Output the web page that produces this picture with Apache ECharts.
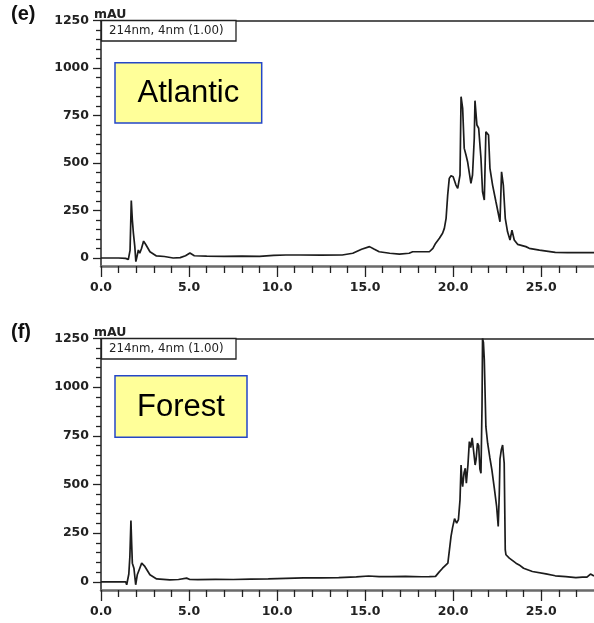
<!DOCTYPE html>
<html>
<head>
<meta charset="utf-8">
<script src="https://cdn.jsdelivr.net/npm/echarts@6/dist/echarts.min.js"></script>
<style>
html,body{margin:0;padding:0;background:#fff;}
#chart{width:594px;height:623px;}
</style>
</head>
<body>
<div id="chart"></div>
<script>
// ---- data (retention time in min, absorbance in mAU) ----
const panelLetters = ['(e)', '(f)'];
const sampleNames = ['Atlantic', 'Forest'];
const detectorLabel = '214nm, 4nm (1.00)';
const yUnit = 'mAU';
const xTicks = [0, 5, 10, 15, 20, 25];
const yTicks = [0, 250, 500, 750, 1000, 1250];

const atlanticTime = [0, 1.0, 1.4, 1.55, 1.65, 1.72, 1.78, 1.84, 1.92, 1.98, 2.05, 2.12, 2.2, 2.3, 2.42, 2.55, 2.78, 3.15, 3.6, 4.1, 4.5, 4.8, 5.05, 5.3, 6.0, 7.0, 8.0, 9.0, 9.8, 10.5, 11.3, 12.5, 13.7, 14.3, 14.8, 15.25, 15.5, 15.8, 16.4, 16.95, 17.5, 17.7, 18.65, 18.85, 19.0, 19.22, 19.4, 19.5, 19.6, 19.69, 19.78, 19.88, 20.0, 20.16, 20.26, 20.39, 20.45, 20.54, 20.63, 20.73, 20.82, 21.01, 21.1, 21.2, 21.24, 21.35, 21.45, 21.58, 21.67, 21.77, 21.86, 22.01, 22.09, 22.24, 22.43, 22.66, 22.75, 22.85, 22.96, 23.09, 23.23, 23.34, 23.47, 23.66, 24.13, 24.32, 24.9, 25.8, 26.5, 27.2, 28];
const atlanticAbs = [0, 0, -2, -8, 40, 302, 200, 131, 60, -19, 10, 42, 25, 50, 89, 70, 33, 11, 8, 0, 2, 12, 26, 12, 10, 9, 10, 9, 14, 16, 16, 15, 16, 25, 46, 60, 47, 33, 25, 20, 25, 33, 33, 51, 77, 104, 130, 156, 209, 331, 419, 433, 428, 384, 367, 437, 849, 788, 577, 542, 507, 393, 437, 630, 828, 700, 683, 525, 349, 305, 665, 647, 472, 384, 296, 191, 454, 384, 209, 138, 95, 147, 95, 72, 60, 51, 42, 30, 28, 28, 28];

const forestTime = [0, 1.0, 1.4, 1.46, 1.58, 1.64, 1.70, 1.74, 1.78, 1.87, 1.97, 2.06, 2.17, 2.31, 2.49, 2.78, 3.16, 3.91, 4.4, 4.86, 5.05, 5.5, 6.5, 7.5, 8.5, 9.5, 10.5, 11.5, 12.5, 13.5, 14.5, 15.2, 15.8, 16.5, 17.3, 18.2, 18.65, 19.0, 19.2, 19.4, 19.7, 19.88, 19.97, 20.08, 20.2, 20.3, 20.39, 20.45, 20.5, 20.54, 20.62, 20.69, 20.75, 20.84, 20.92, 21.0, 21.08, 21.16, 21.25, 21.3, 21.38, 21.45, 21.52, 21.58, 21.64, 21.67, 21.72, 21.77, 21.86, 21.96, 22.08, 22.2, 22.34, 22.47, 22.56, 22.62, 22.66, 22.74, 22.81, 22.9, 22.96, 23.0, 23.1, 23.19, 23.3, 23.57, 23.75, 24.0, 24.5, 25.27, 25.8, 26.4, 26.97, 27.34, 27.6, 27.8, 28];
const forestAbs = [0, 0, 0, -15, 40, 130, 315, 200, 96, 70, -15, 36, 62, 96, 79, 36, 15, 10, 12, 19, 12, 11, 13, 12, 14, 15, 18, 20, 20, 22, 25, 30, 27, 27, 28, 26, 27, 28, 50, 70, 96, 233, 280, 325, 301, 320, 421, 600, 520, 489, 560, 583, 507, 600, 720, 690, 740, 738, 600, 626, 712, 700, 580, 558, 900, 1250, 1230, 1140, 797, 712, 640, 575, 480, 387, 284, 450, 630, 680, 703, 609, 164, 139, 130, 122, 118, 96, 87, 70, 53, 41, 31, 27, 22, 24, 24, 40, 30];

// ---- build ----
const X_MIN = 0, X_MAX = 28, Y_MIN = -42, Y_MAX = 1250;
const minorY = [];
for (let v = 50; v < Y_MAX; v += 50) if (v % 250 !== 0) minorY.push(v);
const minorX = [];
for (let t = 1; t < X_MAX; t++) if (t % 5 !== 0) minorX.push(t);

const grids = [
  {left: 101, right: 0, top: 20.5, height: 245.5},
  {left: 101, right: 0, top: 338.5, height: 251.5}
];
const labelFont = {fontFamily: 'DejaVu Sans', fontSize: 12.5, fontWeight: 'bold', color: '#222'};

const xAxes = [], yAxes = [], series = [];
grids.forEach((g, i) => {
  xAxes.push({
    type: 'value', gridIndex: i, min: X_MIN, max: X_MAX, position: 'bottom',
    axisLine: {show: true, onZero: false, lineStyle: {color: '#6a6a6a', width: 2.5}},
    axisTick: {show: true, customValues: xTicks, length: 11, lineStyle: {color: '#222', width: 1.3}},
    minorTick: {show: false},
    axisLabel: Object.assign({customValues: xTicks, margin: 15, formatter: v => v.toFixed(1)}, labelFont),
    splitLine: {show: false}
  });
  xAxes.push({
    type: 'value', gridIndex: i, min: X_MIN, max: X_MAX, position: 'bottom',
    axisLine: {show: false, onZero: false},
    axisTick: {show: true, customValues: minorX, length: 7, lineStyle: {color: '#222', width: 1.3}},
    axisLabel: {show: false}, splitLine: {show: false}
  });
  xAxes.push({
    type: 'value', gridIndex: i, min: X_MIN, max: X_MAX, position: 'top',
    axisLine: {show: true, onZero: false, lineStyle: {color: '#222', width: 1.5}},
    axisTick: {show: false}, axisLabel: {show: false}, splitLine: {show: false}
  });
  yAxes.push({
    type: 'value', gridIndex: i, min: Y_MIN, max: Y_MAX, position: 'left',
    axisLine: {show: true, onZero: false, lineStyle: {color: '#222', width: 1.5}},
    axisTick: {show: true, customValues: yTicks, length: 8, lineStyle: {color: '#222', width: 1.3}},
    axisLabel: Object.assign({customValues: yTicks, margin: 12, formatter: v => String(v)}, labelFont),
    splitLine: {show: false}
  });
  yAxes.push({
    type: 'value', gridIndex: i, min: Y_MIN, max: Y_MAX, position: 'left',
    axisLine: {show: false, onZero: false},
    axisTick: {show: true, customValues: minorY, length: 5, lineStyle: {color: '#222', width: 1.3}},
    axisLabel: {show: false}, splitLine: {show: false}
  });
});

function pairs(ts, vs) { return ts.map((t, k) => [t, vs[k]]); }
const traces = [pairs(atlanticTime, atlanticAbs), pairs(forestTime, forestAbs)];
traces.forEach((d, i) => {
  series.push({
    type: 'line', xAxisIndex: i * 3, yAxisIndex: i * 2, data: d,
    showSymbol: false, symbol: 'none', animation: false,
    lineStyle: {color: '#1c1c1c', width: 1.7}
  });
});

const graphic = [];
const panelTops = [20.5, 338.5];
const boxes = [
  {x: 115, y: 62.7, w: 146.7, h: 60.3},
  {x: 115, y: 375.7, w: 132, h: 61.6}
];
panelTops.forEach((top, i) => {
  graphic.push({type: 'text', left: 11, top: top - 16, style: {text: panelLetters[i], font: 'bold 20px "Liberation Sans", Arial', fill: '#111'}});
  graphic.push({type: 'text', left: 94, top: top - 12.5, style: {text: yUnit, font: 'bold 12.5px "DejaVu Sans"', fill: '#222'}});
  graphic.push({type: 'rect', shape: {x: 101.5, y: top, width: 134.5, height: 20.5}, style: {fill: '#fff', stroke: '#222', lineWidth: 1.3}, z: 10});
  graphic.push({type: 'text', x: 109, y: top + 10.5, style: {text: detectorLabel, font: '11.8px "DejaVu Sans"', fill: '#222', textVerticalAlign: 'middle', verticalAlign: 'middle'}, z: 11});
  const b = boxes[i];
  graphic.push({type: 'rect', shape: {x: b.x, y: b.y, width: b.w, height: b.h}, style: {fill: '#ffff99', stroke: '#2447c8', lineWidth: 1.5}, z: 10});
  graphic.push({type: 'text', x: b.x + b.w / 2, y: b.y + b.h / 2 + 1, style: {text: sampleNames[i], font: '31px "Liberation Sans", Arial', fill: '#000', align: 'center', verticalAlign: 'middle', textAlign: 'center', textVerticalAlign: 'middle'}, z: 11});
});

const chart = echarts.init(document.getElementById('chart'), null, {renderer: 'canvas'});
chart.setOption({
  animation: false,
  backgroundColor: '#fff',
  grid: grids,
  xAxis: xAxes,
  yAxis: yAxes,
  series: series,
  graphic: graphic
});
</script>
</body>
</html>
